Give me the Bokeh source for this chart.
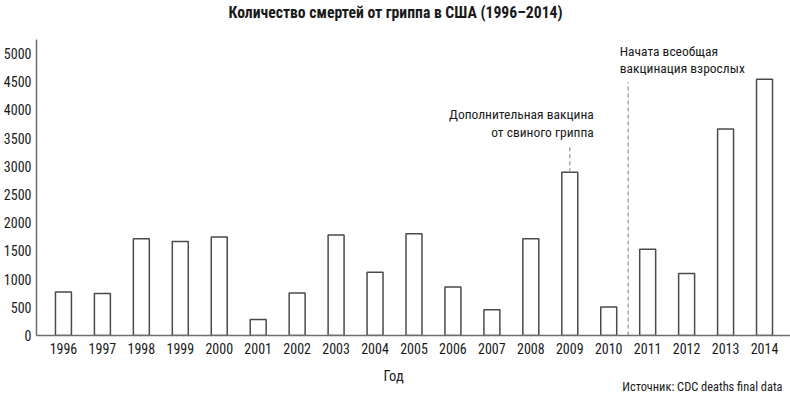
from bokeh.plotting import figure
from bokeh.models import FixedTicker, Label, ColumnDataSource, Range1d, Title
from bokeh.embed import file_html
from bokeh.resources import INLINE

# ---- data ----
years = [1996, 1997, 1998, 1999, 2000, 2001, 2002, 2003, 2004, 2005,
         2006, 2007, 2008, 2009, 2010, 2011, 2012, 2013, 2014]
deaths = [770, 745, 1715, 1665, 1745, 285, 755, 1780, 1120, 1805,
          860, 455, 1715, 2895, 505, 1530, 1100, 3660, 4540]
y_ticks = [0, 500, 1000, 1500, 2000, 2500, 3000, 3500, 4000, 4500, 5000]
year_labels = [str(y) for y in years]

title_text = "Количество смертей от гриппа в США (1996–2014)"
x_label = "Год"
source_text = "Источник: CDC deaths final data"
note1 = ["Дополнительная вакцина", "от свиного гриппа"]
note2 = ["Начата всеобщая", "вакцинация взрослых"]
note1_year = 2009          # leader from this bar
note1_lead = 485           # leader length above bar (deaths units)
note2_year = 2010.5        # dashed divider between 2010 and 2011
note2_top = 4490

FONT = "Roboto Condensed, Liberation Sans Narrow, Roboto, sans-serif"
TXT = "#1a1a1a"

p = figure(width=790, height=395, output_backend="svg", toolbar_location=None,
           x_range=Range1d(1995.308, 2014.667), y_range=Range1d(0, 5246),
           min_border_left=35, min_border_right=0, min_border_top=37,
           min_border_bottom=60)
p.outline_line_color = None
p.grid.visible = False
p.background_fill_color = "white"

# title: a thin spacer keeps it near the top edge
spacer = Title(text=" ", text_font_size="1px", standoff=15)
p.add_layout(spacer, "above")
main_title = Title(text=title_text, align="left", offset=192, standoff=0,
                   vertical_align="bottom", text_font=FONT,
                   text_font_size="15.7px", text_font_style="bold",
                   text_color=TXT)
p.add_layout(main_title, "above")

src = ColumnDataSource(dict(x=years, top=deaths))
p.vbar(x="x", top="top", bottom=0, width=0.41, source=src,
       fill_color="white", line_color="#4a4a4a", line_width=1.5)

# annotation leaders
p.segment(x0=[note1_year], y0=[deaths[years.index(note1_year)]],
          x1=[note1_year], y1=[deaths[years.index(note1_year)] + note1_lead],
          line_color="#9a9a9a", line_width=1.3, line_dash="4 3")
p.segment(x0=[note2_year], y0=[0], x1=[note2_year], y1=[note2_top],
          line_color="#9a9a9a", line_width=1.3, line_dash="4 3")

for ax in (p.xaxis[0], p.yaxis[0]):
    ax.axis_line_color = "#6e6e6e"
    ax.axis_line_width = 1.5
    ax.major_tick_line_color = None
    ax.minor_tick_line_color = None
    ax.major_tick_out = 0
    ax.major_tick_in = 0
    ax.major_label_text_font = FONT
    ax.major_label_text_font_size = "14px"
    ax.major_label_text_color = TXT

p.xaxis.ticker = FixedTicker(ticks=years)
p.xaxis.major_label_overrides = {y: s for y, s in zip(years, year_labels)}
p.xaxis.major_label_standoff = 7
p.xaxis.axis_label = x_label + "\u00a0" * 12   # shifts the label left of frame centre
p.xaxis.axis_label_standoff = 11
p.xaxis.axis_label_text_font = FONT
p.xaxis.axis_label_text_font_size = "14.5px"
p.xaxis.axis_label_text_font_style = "normal"
p.xaxis.axis_label_text_color = TXT
p.yaxis.ticker = FixedTicker(ticks=y_ticks)
p.yaxis.major_label_standoff = 5

src_title = Title(text=source_text, align="right", offset=8, standoff=-17,
                  vertical_align="top",
                  text_font=FONT, text_font_size="12.4px",
                  text_font_style="normal", text_color=TXT)
p.add_layout(src_title, "below")

def lab(x, y, text, align="left"):
    p.add_layout(Label(x=x, y=y, text=text, text_font=FONT, text_font_size="13.5px",
                       text_color=TXT, text_align=align, text_baseline="middle"))

lab(2009.615, 3931, note1[0], align="right")
lab(2009.615, 3609, note1[1], align="right")
lab(2010.282, 5048, note2[0])
lab(2010.282, 4736, note2[1])

open("out.html", "w").write(file_html(p, INLINE))
